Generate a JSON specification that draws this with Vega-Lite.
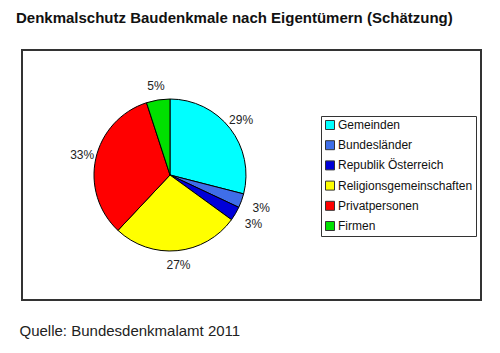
{
  "$schema": "https://vega.github.io/schema/vega-lite/v6.json",
  "background": "white",
  "padding": {"left": 16, "top": 11, "right": 20, "bottom": 5},
  "title": {
    "text": "Denkmalschutz Baudenkmale nach Eigentümern (Schätzung)",
    "anchor": "start",
    "dx": -2.5,
    "offset": 23,
    "font": "Liberation Sans",
    "fontSize": 15,
    "fontWeight": "bold",
    "color": "#111"
  },
  "vconcat": [
    {
      "width": 459,
      "height": 250,
      "view": {"stroke": "#333", "strokeWidth": 2, "fill": "white"},
      "title": {
        "text": "Quelle: Bundesdenkmalamt 2011",
        "orient": "bottom",
        "anchor": "start",
        "dx": -2.5,
        "offset": 24,
        "font": "Liberation Sans",
        "fontSize": 15,
        "fontWeight": "normal",
        "color": "#222"
      },
      "data": {
        "values": [
          {"owner": "Gemeinden", "share": 0.29, "idx": 1},
          {"owner": "Bundesländer", "share": 0.03, "idx": 2},
          {"owner": "Republik Österreich", "share": 0.03, "idx": 3},
          {"owner": "Religionsgemeinschaften", "share": 0.27, "idx": 4},
          {"owner": "Privatpersonen", "share": 0.33, "idx": 5},
          {"owner": "Firmen", "share": 0.05, "idx": 6}
        ]
      },
      "layer": [
        {
          "mark": {
            "type": "arc",
            "outerRadius": 76,
            "stroke": "#000",
            "strokeWidth": 1,
            "x": 148,
            "y": 125
          },
          "encoding": {
            "theta": {"field": "share", "type": "quantitative", "stack": true},
            "order": {"field": "idx", "type": "quantitative"},
            "color": {
              "field": "owner",
              "type": "nominal",
              "sort": null,
              "scale": {
                "domain": ["Gemeinden", "Bundesländer", "Republik Österreich", "Religionsgemeinschaften", "Privatpersonen", "Firmen"],
                "range": ["#00ffff", "#3f6ee8", "#0000d8", "#ffff00", "#ff0000", "#00e000"]
              },
              "legend": {
                "title": null,
                "orient": "none",
                "legendX": 299,
                "legendY": 66,
                "strokeColor": "#333",
                "padding": 3,
                "symbolType": "square",
                "symbolSize": 81,
                "symbolStrokeColor": "#333",
                "symbolStrokeWidth": 1,
                "labelFont": "Liberation Sans",
                "labelFontSize": 12,
                "labelColor": "#111",
                "labelOffset": 2,
                "labelLimit": 300,
                "rowPadding": 6.2
              }
            }
          }
        },
        {
          "mark": {
            "type": "text",
            "font": "Liberation Sans",
            "fontSize": 12,
            "color": "#222",
            "x": 148,
            "y": 125,
            "radius": {"expr": "datum.share < 0.04 ? 97 : 90"}
          },
          "encoding": {
            "theta": {"field": "share", "type": "quantitative", "stack": true},
            "order": {"field": "idx", "type": "quantitative"},
            "text": {"field": "share", "type": "quantitative", "format": ".0%"}
          }
        }
      ]
    }
  ]
}
